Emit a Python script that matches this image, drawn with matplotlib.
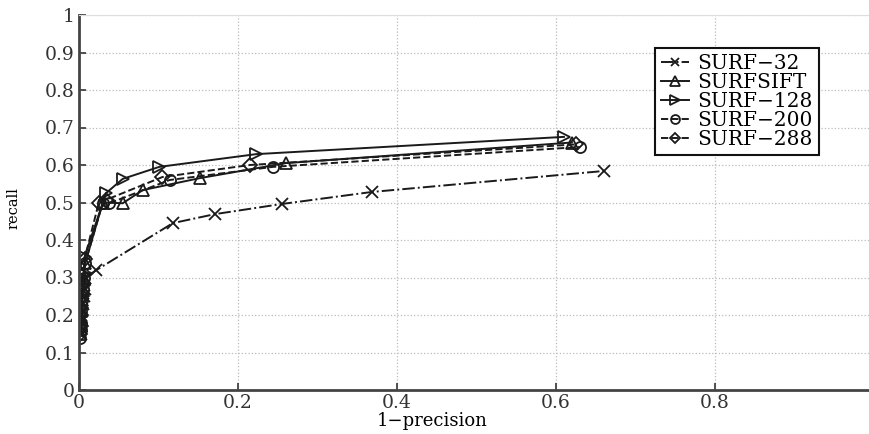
import numpy as np
import matplotlib.pyplot as plt

# recall vs 1-precision
surf32_x = [0.002, 0.003, 0.003, 0.004, 0.005, 0.006, 0.007, 0.008, 0.022, 0.118, 0.171, 0.255, 0.368, 0.66]
surf32_y = [0.15, 0.17, 0.19, 0.21, 0.23, 0.25, 0.27, 0.30, 0.32, 0.445, 0.469, 0.496, 0.528, 0.584]

sift_x = [0.001, 0.002, 0.002, 0.003, 0.004, 0.005, 0.006, 0.008, 0.03, 0.055, 0.08, 0.152, 0.26, 0.62]
sift_y = [0.15, 0.17, 0.19, 0.21, 0.24, 0.27, 0.30, 0.34, 0.50, 0.498, 0.533, 0.565, 0.605, 0.66]

s128_x = [0.001, 0.002, 0.002, 0.003, 0.004, 0.005, 0.006, 0.007, 0.034, 0.055, 0.101, 0.223, 0.61]
s128_y = [0.16, 0.18, 0.20, 0.22, 0.25, 0.28, 0.31, 0.355, 0.525, 0.563, 0.595, 0.629, 0.675]

s200_x = [0.001, 0.002, 0.002, 0.003, 0.004, 0.005, 0.006, 0.008, 0.03, 0.038, 0.114, 0.244, 0.63]
s200_y = [0.14, 0.16, 0.18, 0.21, 0.24, 0.27, 0.30, 0.34, 0.50, 0.498, 0.56, 0.595, 0.648]

s288_x = [0.001, 0.002, 0.003, 0.003, 0.004, 0.005, 0.006, 0.007, 0.025, 0.034, 0.105, 0.215, 0.625]
s288_y = [0.15, 0.17, 0.20, 0.22, 0.25, 0.28, 0.31, 0.35, 0.50, 0.507, 0.568, 0.60, 0.655]

xticks = [0, 0.2, 0.4, 0.6, 0.8, 1]
yticks = [0, 0.1, 0.2, 0.3, 0.4, 0.5, 0.6, 0.7, 0.8, 0.9, 1]

plt.rcParams["font.family"] = ["DejaVu Serif"]

fig = plt.figure(figsize=(8.7, 4.34), dpi=100, facecolor="white")
# axes run slightly past the right edge, like the cropped original
ax = fig.add_axes([79 / 870, (434 - 390) / 434, 795 / 870, 375 / 434])

mk = dict(markerfacecolor="none", markeredgecolor="#1a1a1a", color="#1a1a1a",
          markeredgewidth=1.3, linewidth=1.4)
ax.plot(surf32_x, surf32_y, linestyle="-.", marker="x", markersize=8, label="SURF\u221232", **mk)
ax.plot(sift_x, sift_y, linestyle="-", marker="^", markersize=9, label="SURFSIFT", **mk)
ax.plot(s128_x, s128_y, linestyle="-", marker=">", markersize=9, label="SURF\u2212128", **mk)
ax.plot(s200_x, s200_y, linestyle="--", marker="o", markersize=8, label="SURF\u2212200", **mk)
ax.plot(s288_x, s288_y, linestyle="--", marker="D", markersize=7, label="SURF\u2212288", **mk)

ax.set_xlim(0, 1)
ax.set_ylim(0, 1)
ax.set_xticks(xticks)
ax.set_xticklabels(["0", "0.2", "0.4", "0.6", "0.8", "1"])
ax.set_yticks(yticks)
ax.set_yticklabels(["0", "0.1", "0.2", "0.3", "0.4", "0.5", "0.6", "0.7", "0.8", "0.9", "1"])
ax.tick_params(direction="in", length=5, width=1.2, labelsize=13.5, colors="#333333", pad=3)
ax.grid(True, linestyle=":", color="#bbbbbb", linewidth=0.9)

for s in ["left", "bottom"]:
    ax.spines[s].set_linewidth(2)
    ax.spines[s].set_color("#444444")
ax.spines["top"].set_color("#dddddd")
ax.spines["right"].set_color("#dddddd")

ax.set_xlabel("1\u2212precision", fontsize=13)
ax.xaxis.set_label_coords((432 - 79) / 795, -0.06)
ax.set_ylabel("recall", fontsize=10.5)
ax.yaxis.set_label_coords(-0.074, 0.485)

leg = ax.legend(loc="upper left", bbox_to_anchor=(576 / 795, 342 / 375), fontsize=14.5,
                frameon=True, fancybox=False, framealpha=1, edgecolor="#111111",
                handlelength=1.4, handletextpad=0.4, borderpad=0.3, labelspacing=0.0,
                borderaxespad=0, markerscale=0.8)
leg.get_frame().set_linewidth(1.5)

plt.savefig("out.png", dpi=100)
